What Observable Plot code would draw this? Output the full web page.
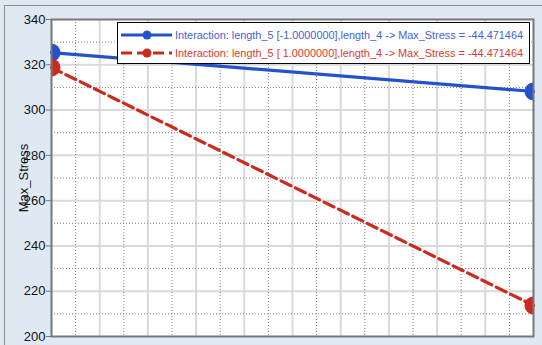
<!DOCTYPE html>
<html><head><meta charset="utf-8">
<script src="https://cdn.jsdelivr.net/npm/d3@7"></script>
<script src="https://cdn.jsdelivr.net/npm/@observablehq/plot@0.6"></script>
<style>
body{margin:0;background:#dfe9f4;font-family:"Liberation Sans",Arial,sans-serif;}
#wrap{position:relative;width:542px;height:345px;overflow:hidden;}
#border{position:absolute;left:4px;top:5px;width:620px;height:420px;border:1px solid #8c8c8c;box-sizing:border-box;}
#chart{position:absolute;left:0;top:0;}
#legend{position:absolute;left:117px;top:22px;width:413px;height:42px;border:1px solid #000;background:#fff;box-sizing:border-box;}
</style></head>
<body>
<div id="wrap"><div id="border"></div><div id="chart"></div><div id="legend"></div></div>
<script>
// length_4 levels (x) and Max_Stress values per series
const xLevels = [-1, 1];
const seriesNames = [
  "Interaction: length_5 [-1.0000000],length_4 -> Max_Stress = -44.471464",
  "Interaction: length_5 [ 1.0000000],length_4 -> Max_Stress = -44.471464"
];
const blueValues = [325.4, 308.2];
const redValues = [318.8, 213.7];
const yTicks = [200, 220, 240, 260, 280, 300, 320, 340];
const yMinor = [210, 230, 250, 270, 290, 310, 330];
const xMajor = [-0.8, -0.6, -0.4, -0.2, 0, 0.2, 0.4, 0.6, 0.8];
const xMinor = [-0.9, -0.7, -0.5, -0.3, -0.1, 0.1, 0.3, 0.5, 0.7, 0.9];
const colors = ["#2352cc", "#cc2a1e"];
const textColors = ["#3f62d8", "#d93a30"];

const blue = xLevels.map((x, i) => ({x, y: blueValues[i]}));
const red = xLevels.map((x, i) => ({x, y: redValues[i]}));

const plot = Plot.plot({
  width: 542, height: 345,
  marginLeft: 51, marginTop: 19, marginRight: 9, marginBottom: 9,
  style: {background: "transparent", fontFamily: "Liberation Sans, Arial, sans-serif", fontSize: "13px", color: "#111"},
  x: {domain: [-1, 1], axis: null},
  y: {domain: [200, 340], axis: null},
  marks: [
    Plot.frame({fill: "#fff", stroke: null}),
    Plot.ruleY(yTicks.slice(1, -1), {stroke: "#d9d9d9", strokeWidth: 2}),
    Plot.ruleX(xMajor, {stroke: "#d9d9d9", strokeWidth: 2}),
    Plot.ruleY(yMinor, {stroke: "#808080", strokeWidth: 1, strokeDasharray: "1,2"}),
    Plot.ruleX(xMinor, {stroke: "#808080", strokeWidth: 1, strokeDasharray: "1,2"}),
    Plot.line(blue, {x: "x", y: "y", stroke: colors[0], strokeWidth: 3.2}),
    Plot.line(red, {x: "x", y: "y", stroke: colors[1], strokeWidth: 3.2, strokeDasharray: "11,5"}),
    Plot.dot(blue, {x: "x", y: "y", r: 9, fill: colors[0], clip: true}),
    Plot.dot(red, {x: "x", y: "y", r: 9, fill: colors[1], clip: true}),
    Plot.frame({stroke: "#777", strokeWidth: 2}),
    Plot.axisY({ticks: yTicks, tickSize: 5, tickPadding: 1, stroke: "#777", fill: "#111",
      label: "Max_Stress", labelAnchor: "center", labelArrow: "none", labelOffset: 33})
  ]
});
document.getElementById("chart").appendChild(plot);

// legend
const lg = d3.select("#legend").append("svg").attr("width", 411).attr("height", 40);
seriesNames.forEach((name, i) => {
  const cy = 12 + i * 18;
  lg.append("line").attr("x1", 3).attr("x2", 54).attr("y1", cy).attr("y2", cy)
    .attr("stroke", colors[i]).attr("stroke-width", 3.2)
    .attr("stroke-dasharray", i === 1 ? "11,5" : null);
  lg.append("circle").attr("cx", 29).attr("cy", cy).attr("r", 4.5).attr("fill", colors[i]);
  lg.append("text").attr("x", 57).attr("y", cy + 4).attr("fill", textColors[i])
    .attr("font-size", "11px").attr("textLength", 348).attr("lengthAdjust", "spacingAndGlyphs")
    .attr("font-family", "Liberation Sans, Arial, sans-serif").text(name);
});
</script>
</body></html>
